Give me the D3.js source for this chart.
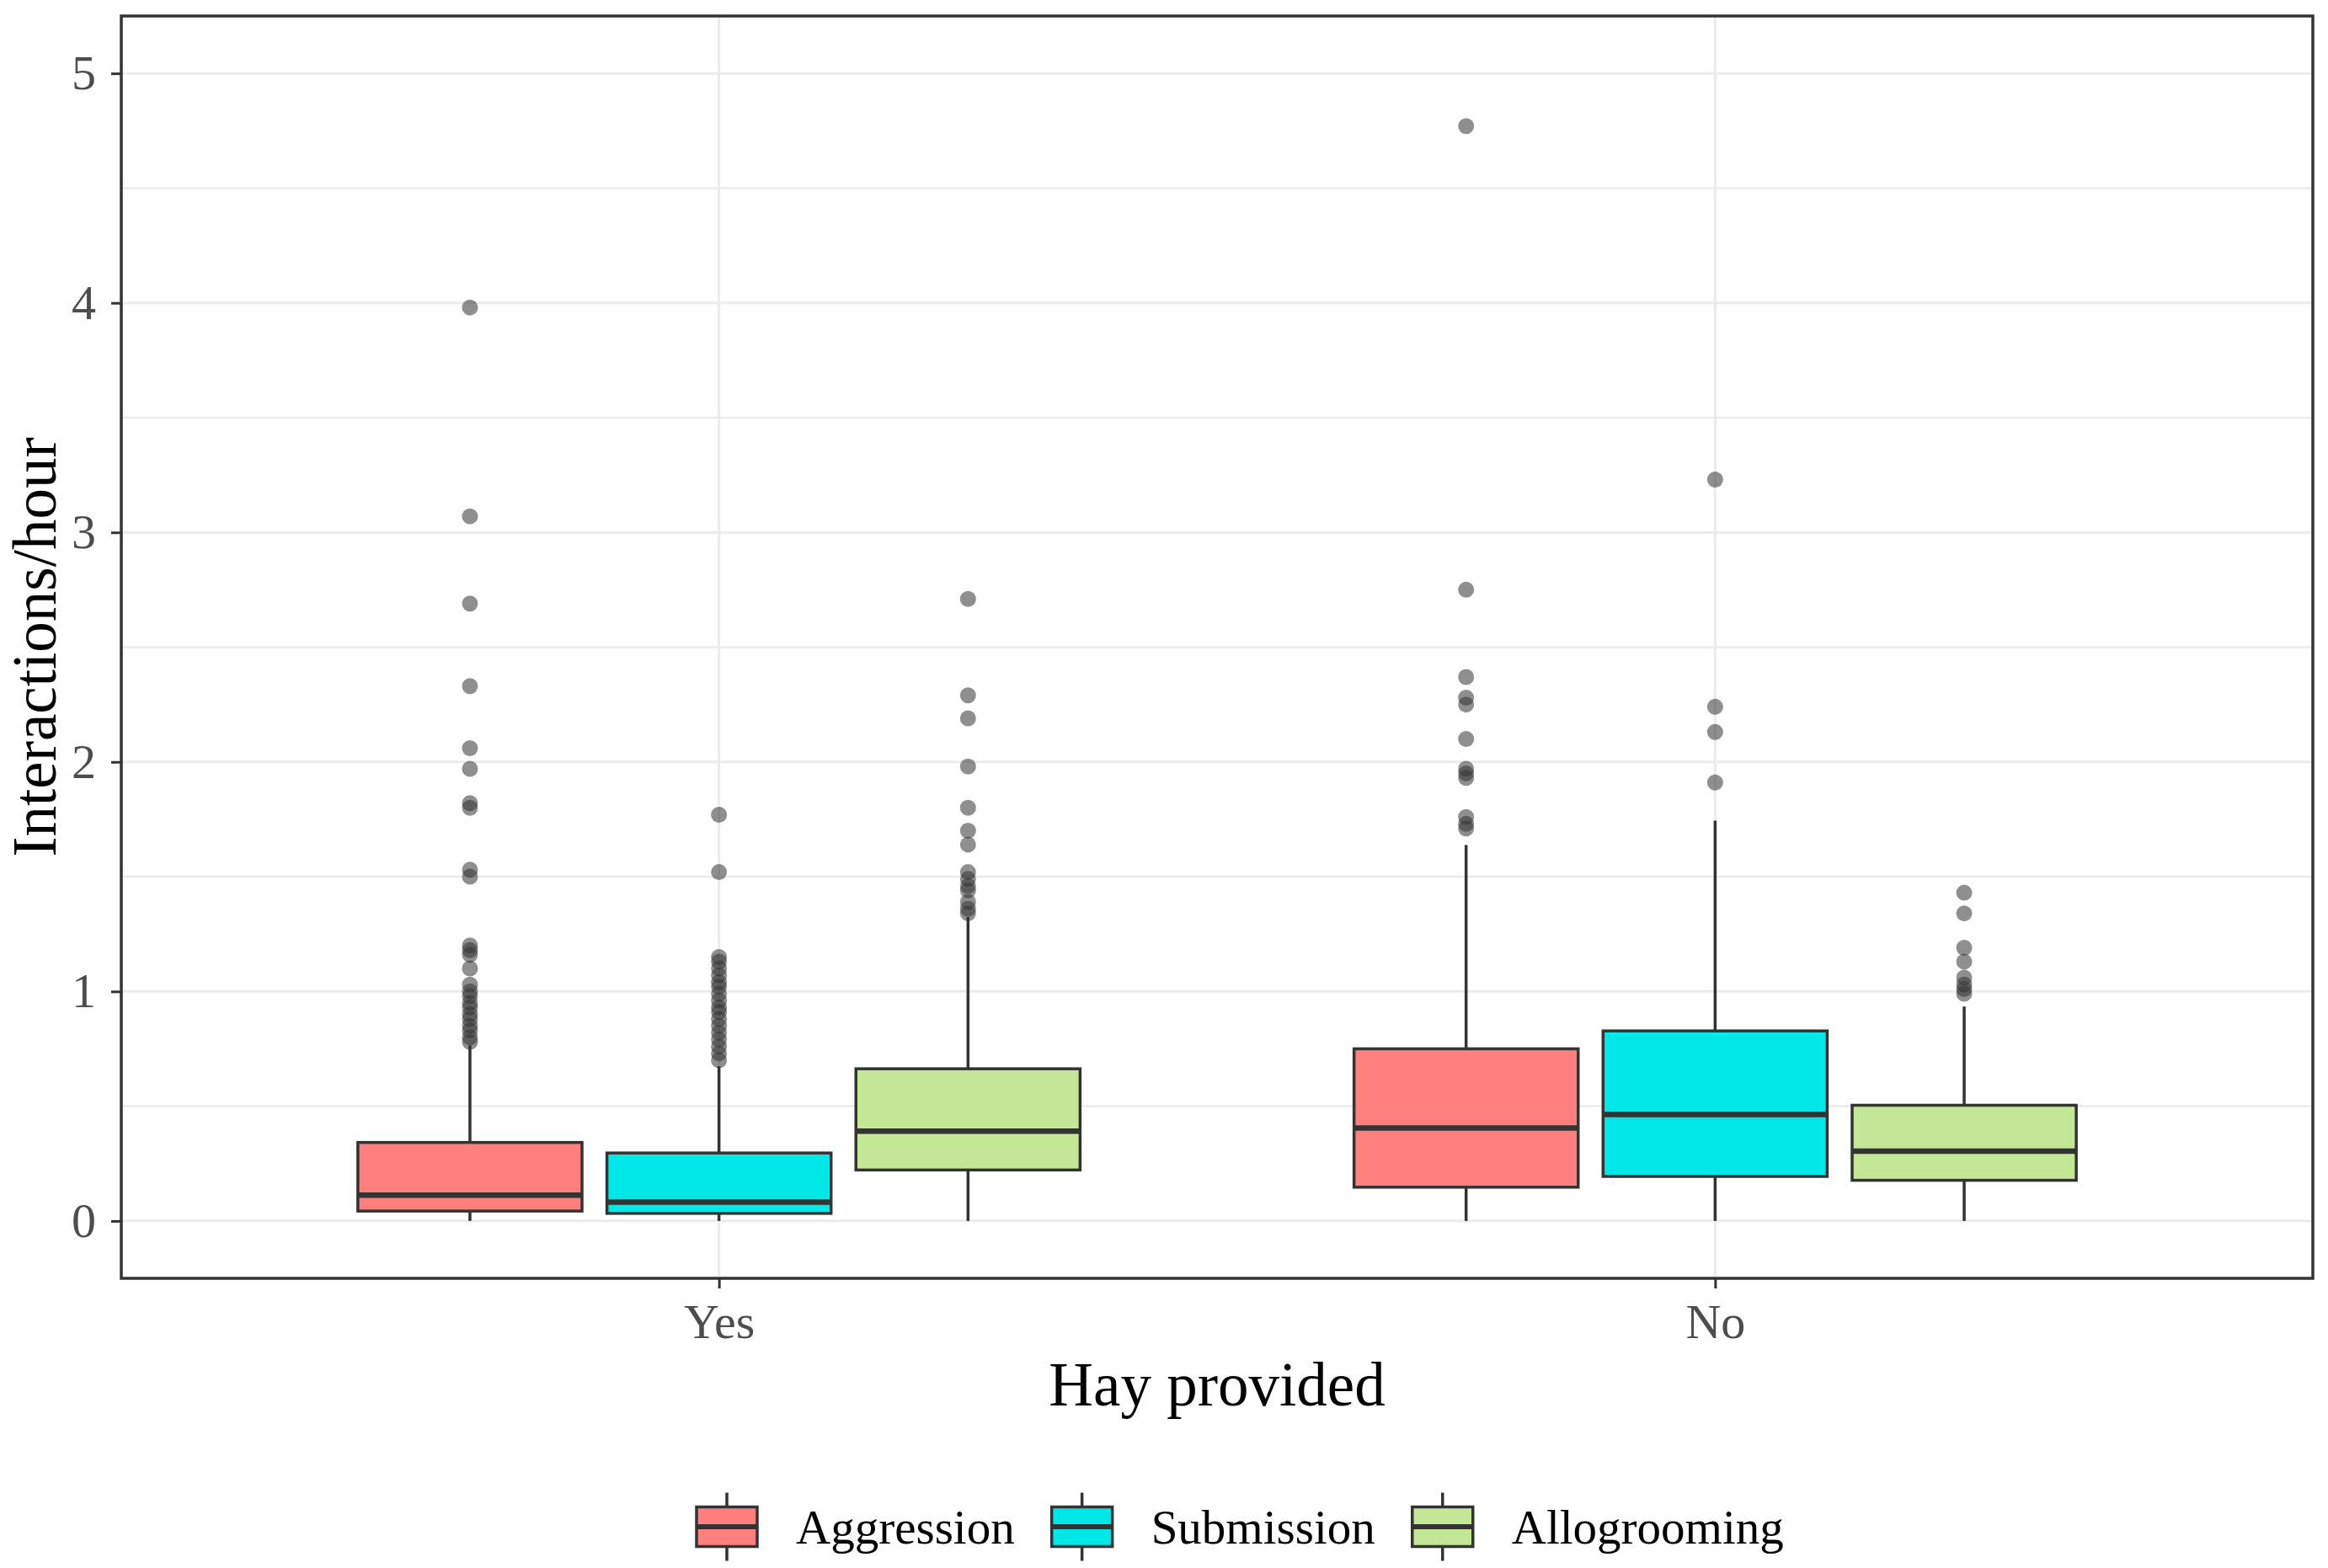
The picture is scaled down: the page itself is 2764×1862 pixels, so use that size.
<!DOCTYPE html>
<html lang="en">
<head>
<meta charset="UTF-8">
<script src="https://d3js.org/d3.v7.min.js"></script>
<style>
    body { margin: 0; background: #ffffff; }
    svg text { font-family: "Liberation Serif", "DejaVu Serif", serif; }
</style>
</head>
<body>
<svg id="chart" width="2764" height="1862"></svg>
<script>
    // categories
    const hayGroups = ["Yes", "No"];
    const behaviours = ["Aggression", "Submission", "Allogrooming"];
    const fills = ["#ff7f7f", "#00e8e8", "#c3e794"];

    // box statistics, [hay group][behaviour]
    const whiskerLow = [[0, 0, 0], [0, 0, 0]];
    const quartile1 = [[0.043, 0.033, 0.222], [0.147, 0.194, 0.177]];
    const medians = [[0.112, 0.082, 0.391], [0.405, 0.464, 0.304]];
    const quartile3 = [[0.342, 0.296, 0.663], [0.750, 0.828, 0.504]];
    const whiskerHigh = [[0.765, 0.674, 1.324], [1.638, 1.744, 0.934]];

    // outlying points, [hay group][behaviour]
    const outliers = [
        [
            [3.98, 3.07, 2.69, 2.33, 2.06, 1.97, 1.82, 1.80, 1.53, 1.50, 1.20, 1.18, 1.16, 1.10,
             1.03, 1.00, 0.98, 0.95, 0.93, 0.90, 0.88, 0.85, 0.83, 0.80, 0.78],
            [1.77, 1.52, 1.15, 1.13, 1.10, 1.07, 1.04, 1.02, 0.99, 0.96, 0.93, 0.91, 0.88, 0.85,
             0.82, 0.79, 0.76, 0.73, 0.70],
            [2.71, 2.29, 2.19, 1.98, 1.80, 1.70, 1.64, 1.52, 1.49, 1.46, 1.44, 1.39, 1.36, 1.34]
        ],
        [
            [4.77, 2.75, 2.37, 2.28, 2.25, 2.10, 1.97, 1.95, 1.93, 1.76, 1.73, 1.71],
            [3.23, 2.24, 2.13, 1.91],
            [1.43, 1.34, 1.19, 1.13, 1.06, 1.03, 1.01, 0.99]
        ]
    ];

    const yTicks = [0, 1, 2, 3, 4, 5];
    const yMinor = [0.5, 1.5, 2.5, 3.5, 4.5];

    const svg = d3.select("#chart");
    const panel = { left: 144, right: 2746, top: 19, bottom: 1518 };
    const dark = "#333333";

    const x = d3.scalePoint()
        .domain(hayGroups)
        .range([panel.left, panel.right])
        .padding(0.6);
    const step = x.step();
    const dodge = d3.scaleBand()
        .domain(behaviours)
        .range([-0.375 * step, 0.375 * step]);
    const boxWidth = dodge.bandwidth() * 0.9;

    const y = d3.scaleLinear()
        .domain([-0.25, 5.25])
        .range([panel.bottom, panel.top]);

    // grid
    const grid = svg.append("g");
    grid.selectAll("line.minor")
        .data(yMinor)
        .join("line")
        .attr("x1", panel.left).attr("x2", panel.right)
        .attr("y1", d => y(d)).attr("y2", d => y(d))
        .attr("stroke", "#ebebeb").attr("stroke-width", 2.5);
    grid.selectAll("line.majorY")
        .data(yTicks)
        .join("line")
        .attr("x1", panel.left).attr("x2", panel.right)
        .attr("y1", d => y(d)).attr("y2", d => y(d))
        .attr("stroke", "#ebebeb").attr("stroke-width", 3);
    grid.selectAll("line.majorX")
        .data(hayGroups)
        .join("line")
        .attr("x1", d => x(d)).attr("x2", d => x(d))
        .attr("y1", panel.top).attr("y2", panel.bottom)
        .attr("stroke", "#ebebeb").attr("stroke-width", 3);

    // boxes
    const boxes = [];
    hayGroups.forEach((g, gi) => {
        behaviours.forEach((b, bi) => {
            boxes.push({
                group: g, behaviour: b, fill: fills[bi],
                cx: x(g) + dodge(b) + dodge.bandwidth() / 2,
                lo: whiskerLow[gi][bi], q1: quartile1[gi][bi], med: medians[gi][bi],
                q3: quartile3[gi][bi], hi: whiskerHigh[gi][bi],
                out: outliers[gi][bi]
            });
        });
    });

    const layer = svg.append("g");
    const box = layer.selectAll("g.box")
        .data(boxes)
        .join("g")
        .attr("class", "box");

    box.append("line")
        .attr("x1", d => d.cx).attr("x2", d => d.cx)
        .attr("y1", d => y(d.hi)).attr("y2", d => y(d.q3))
        .attr("stroke", dark).attr("stroke-width", 3.5);
    box.append("line")
        .attr("x1", d => d.cx).attr("x2", d => d.cx)
        .attr("y1", d => y(d.q1)).attr("y2", d => y(d.lo))
        .attr("stroke", dark).attr("stroke-width", 3.5);
    box.append("rect")
        .attr("x", d => d.cx - boxWidth / 2)
        .attr("width", boxWidth)
        .attr("y", d => y(d.q3))
        .attr("height", d => y(d.q1) - y(d.q3))
        .attr("fill", d => d.fill)
        .attr("stroke", dark).attr("stroke-width", 3.5);
    box.append("line")
        .attr("x1", d => d.cx - boxWidth / 2).attr("x2", d => d.cx + boxWidth / 2)
        .attr("y1", d => y(d.med)).attr("y2", d => y(d.med))
        .attr("stroke", dark).attr("stroke-width", 6.5);
    box.selectAll("circle")
        .data(d => d.out.map(v => ({ cx: d.cx, v: v })))
        .join("circle")
        .attr("cx", d => d.cx)
        .attr("cy", d => y(d.v))
        .attr("r", 9.5)
        .attr("fill", dark)
        .attr("fill-opacity", 0.55);

    // panel border
    svg.append("rect")
        .attr("x", panel.left).attr("y", panel.top)
        .attr("width", panel.right - panel.left)
        .attr("height", panel.bottom - panel.top)
        .attr("fill", "none")
        .attr("stroke", dark).attr("stroke-width", 3.5);

    // axes
    const yAxis = svg.append("g")
        .attr("transform", `translate(${panel.left},0)`)
        .call(d3.axisLeft(y).tickValues(yTicks).tickSize(12).tickPadding(18).tickFormat(d3.format("d")));
    const xAxis = svg.append("g")
        .attr("transform", `translate(0,${panel.bottom})`)
        .call(d3.axisBottom(x).tickSize(12).tickPadding(18));
    [yAxis, xAxis].forEach(a => {
        a.select(".domain").remove();
        a.selectAll(".tick line").attr("stroke", dark).attr("stroke-width", 3);
        a.selectAll(".tick text")
            .attr("fill", "#4d4d4d")
            .style("font-family", "Liberation Serif")
            .style("font-size", "58px");
    });

    svg.append("text")
        .attr("x", (panel.left + panel.right) / 2)
        .attr("y", 1669)
        .attr("text-anchor", "middle")
        .style("font-size", "73px")
        .text("Hay provided");

    svg.append("text")
        .attr("transform", `translate(66,${(panel.top + panel.bottom) / 2}) rotate(-90)`)
        .attr("text-anchor", "middle")
        .style("font-size", "73px")
        .text("Interactions/hour");

    // legend
    const legend = svg.append("g");
    let lx = 827;
    const keyW = 72, keyH = 47, ly = 1813;
    behaviours.forEach((b, i) => {
        const item = legend.append("g");
        item.append("line")
            .attr("x1", lx + keyW / 2).attr("x2", lx + keyW / 2)
            .attr("y1", ly - keyH / 2 - 17).attr("y2", ly + keyH / 2 + 17)
            .attr("stroke", dark).attr("stroke-width", 3.5);
        item.append("rect")
            .attr("x", lx).attr("y", ly - keyH / 2)
            .attr("width", keyW).attr("height", keyH)
            .attr("fill", fills[i])
            .attr("stroke", dark).attr("stroke-width", 3.5);
        item.append("line")
            .attr("x1", lx).attr("x2", lx + keyW)
            .attr("y1", ly).attr("y2", ly)
            .attr("stroke", dark).attr("stroke-width", 6);
        const t = item.append("text")
            .attr("x", lx + keyW + 46)
            .attr("y", ly + 20)
            .style("font-size", "57px")
            .text(b);
        lx = lx + keyW + 46 + t.node().getComputedTextLength() + 44;
    });
</script>
</body>
</html>
